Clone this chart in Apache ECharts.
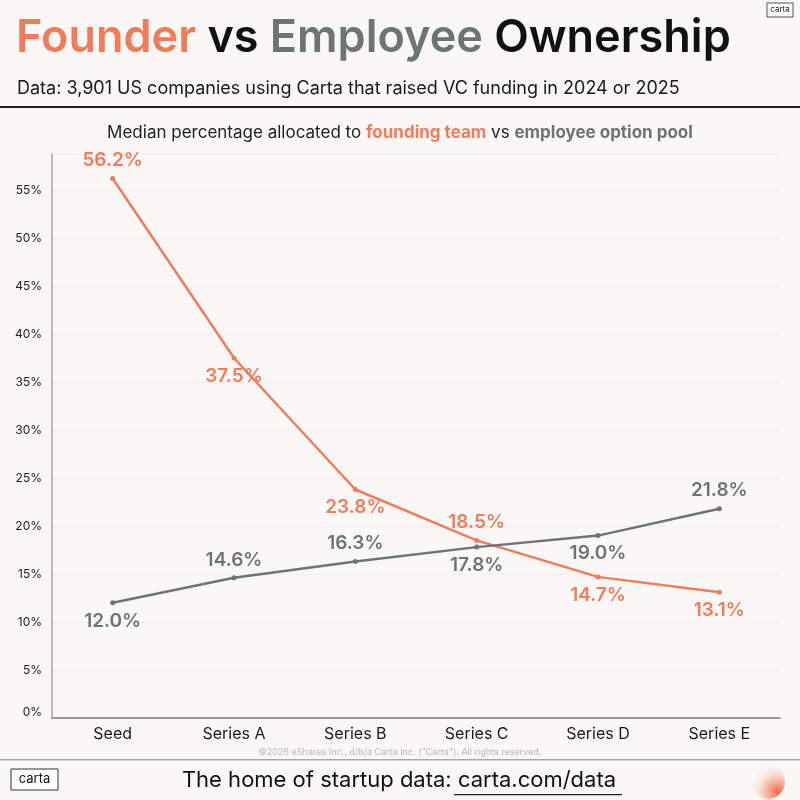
<!DOCTYPE html>
<html>
<head>
<meta charset="utf-8">
<script src="https://cdn.jsdelivr.net/npm/echarts@6/dist/echarts.min.js"></script>
<style>
  html, body { margin: 0; padding: 0; background: #faf8f6; }
  #main { width: 800px; height: 800px; }
</style>
</head>
<body>
<div id="main"></div>
<script>
// data
const stages = ['Seed', 'Series A', 'Series B', 'Series C', 'Series D', 'Series E'];
const founderPct = [56.2, 37.5, 23.8, 18.5, 14.7, 13.1];
const employeePct = [12.0, 14.6, 16.3, 17.8, 19.0, 21.8];
// where each value label sits
const founderLabelPos = ['top', 'bottom', 'bottom', 'top', 'bottom', 'bottom'];
const employeeLabelPos = ['bottom', 'top', 'top', 'bottom', 'bottom', 'top'];

const ORANGE = '#f07c5b';
const GRAY = '#6d7472';
const FONT = 'Inter';

var myChart = echarts.init(document.getElementById('main'));

function withLabels(values, positions) {
  return values.map(function (v, i) {
    return { value: v, label: { position: positions[i] } };
  });
}

let option = {
  backgroundColor: '#faf8f6',
  textStyle: { fontFamily: FONT },
  title: [{
    left: 11,
    top: 11,
    text: '{f|Founder }{k|vs }{e|Employee }{k|Ownership}',
    textStyle: {
      rich: {
        f: { fontSize: 45, fontWeight: 600, color: ORANGE, fontFamily: FONT },
        e: { fontSize: 45, fontWeight: 600, color: GRAY, fontFamily: FONT },
        k: { fontSize: 45, fontWeight: 600, color: '#111', fontFamily: FONT }
      }
    }
  }, {
    left: 12,
    top: 75,
    text: 'Data: 3,901 US companies using Carta that raised VC funding in 2024 or 2025',
    textStyle: { fontSize: 18, fontWeight: 400, color: '#1a1a1a', fontFamily: FONT }
  }, {
    left: 'center',
    top: 119,
    text: 'Median percentage allocated to {o|founding team} vs {g|employee option pool}',
    textStyle: {
      fontSize: 17, fontWeight: 400, color: '#222', fontFamily: FONT,
      rich: {
        o: { fontSize: 17, fontWeight: 700, color: ORANGE, fontFamily: FONT },
        g: { fontSize: 17, fontWeight: 700, color: GRAY, fontFamily: FONT }
      }
    }
  }],
  grid: { left: 52, right: 20, top: 154, bottom: 82 },
  xAxis: {
    type: 'category',
    data: stages,
    axisLine: { lineStyle: { color: '#999', width: 2 } },
    axisTick: { show: false },
    axisLabel: { fontSize: 16, color: '#1a1a1a', margin: 8 }
  },
  yAxis: {
    type: 'value',
    min: 0,
    max: 58.75,
    interval: 5,
    axisLine: { show: true, lineStyle: { color: '#aaa', width: 1.5 } },
    axisTick: { show: false },
    axisLabel: {
      fontSize: 12, color: '#222', margin: 10, showMaxLabel: false,
      formatter: function (v) { return v === 0 ? '{z|0%}' : v + '%'; },
      rich: { z: { fontSize: 12, color: '#222', padding: [0, 0, 12, 0] } }
    },
    splitLine: { lineStyle: { color: '#f1eeeb', width: 1 } }
  },
  series: [{
    name: 'Founding team',
    type: 'line',
    data: withLabels(founderPct, founderLabelPos),
    symbol: 'circle',
    symbolSize: 5,
    lineStyle: { color: ORANGE, width: 2.5 },
    itemStyle: { color: ORANGE },
    label: {
      show: true, fontSize: 19, fontWeight: 600, color: ORANGE, distance: 6,
      formatter: function (p) { return p.value.toFixed(1) + '%'; }
    },
    animation: false
  }, {
    name: 'Employee option pool',
    type: 'line',
    data: withLabels(employeePct, employeeLabelPos),
    symbol: 'circle',
    symbolSize: 5,
    lineStyle: { color: GRAY, width: 2.5 },
    itemStyle: { color: GRAY },
    label: {
      show: true, fontSize: 19, fontWeight: 600, color: GRAY, distance: 6,
      formatter: function (p) { return p.value.toFixed(1) + '%'; }
    },
    animation: false
  }],
  graphic: [
    // header rule
    { type: 'rect', shape: { x: 0, y: 106, width: 800, height: 2 }, style: { fill: '#222' } },
    // top-right badge
    { type: 'rect', shape: { x: 767, y: 3, width: 26, height: 14 }, style: { fill: '#fff', stroke: '#555', lineWidth: 1 } },
    { type: 'text', x: 780, y: 10, style: { text: 'carta', fontSize: 8, fill: '#222', align: 'center', verticalAlign: 'middle', fontFamily: FONT } },
    // copyright
    { type: 'text', x: 400, y: 752, style: { text: '\u00a92026 eShares Inc., d/b/a Carta Inc. ("Carta"). All rights reserved.', fontSize: 9, fill: '#b8b6b4', align: 'center', verticalAlign: 'middle', fontFamily: FONT } },
    // footer rule
    { type: 'rect', shape: { x: 0, y: 759, width: 800, height: 1.5 }, style: { fill: '#a8a8a8' } },
    // footer box
    { type: 'rect', shape: { x: 11, y: 769, width: 47, height: 21 }, style: { fill: '#fff', stroke: '#333', lineWidth: 1 } },
    { type: 'text', x: 34.5, y: 779.5, style: { text: 'carta', fontSize: 13, fill: '#111', align: 'center', verticalAlign: 'middle', fontFamily: FONT } },
    // footer tagline
    { type: 'text', x: 399, y: 780, style: {
        text: 'The home of startup data: carta.com/data', fontSize: 22, fill: '#111', align: 'center', verticalAlign: 'middle', fontFamily: FONT
    } },
    { type: 'rect', shape: { x: 454, y: 794, width: 168, height: 1.2 }, style: { fill: '#222' } },
    // decorative orb
    { type: 'circle', shape: { cx: 768, cy: 782, r: 17 }, style: {
        fill: new echarts.graphic.RadialGradient(0.78, 0.78, 0.9, [
          { offset: 0, color: '#ee6a48' },
          { offset: 0.25, color: '#f4a28a' },
          { offset: 0.6, color: '#f9e2da' },
          { offset: 1, color: 'rgba(250,246,244,0.1)' }
        ])
    } }
  ]
};

myChart.setOption(option);
</script>
</body>
</html>
